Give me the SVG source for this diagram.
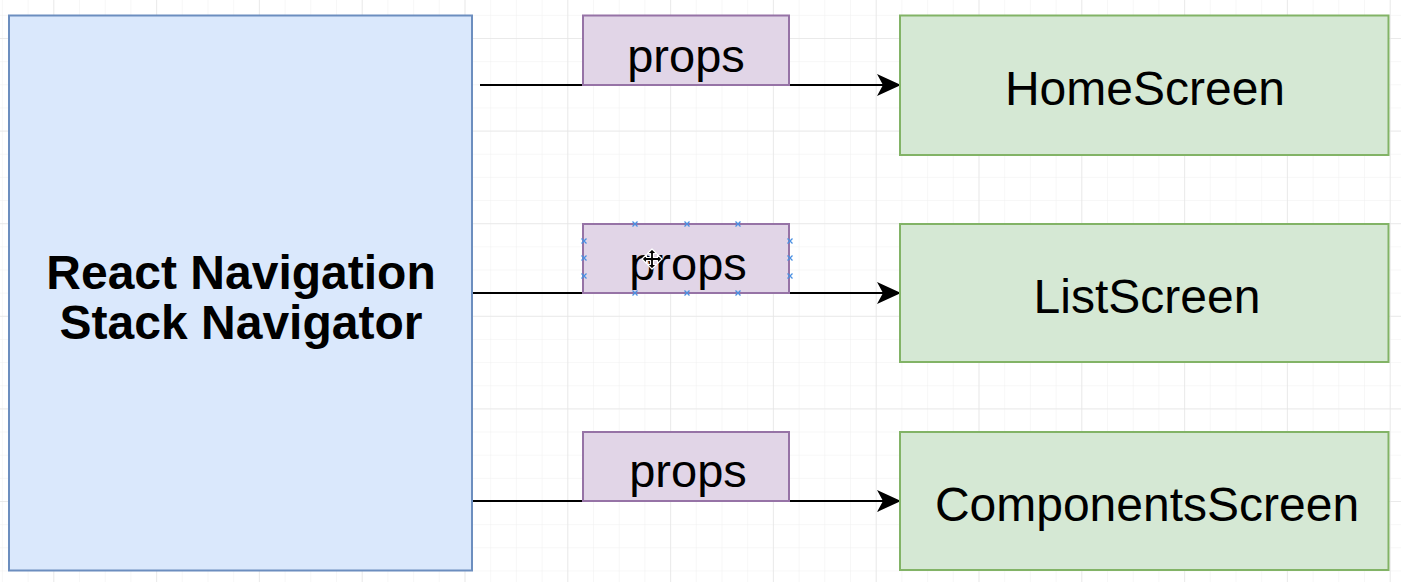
<svg xmlns="http://www.w3.org/2000/svg" width="1401" height="582" viewBox="0 0 1401 582">
<defs>
<pattern id="minor" x="1.9" y="14.85" width="25.7" height="23.15" patternUnits="userSpaceOnUse">
<path d="M0 0H25.7M0 0V23.15" fill="none" stroke="#efefef" stroke-width="1"/>
</pattern>
<pattern id="major" x="53.3" y="38" width="102.8" height="92.6" patternUnits="userSpaceOnUse">
<path d="M0 0H102.8M0 0V92.6" fill="none" stroke="#e6e6e6" stroke-width="1.5"/>
</pattern>
<marker id="arrow" viewBox="0 0 24 24" refX="23" refY="12" markerWidth="24" markerHeight="24" markerUnits="userSpaceOnUse" orient="auto">
<path d="M0 1 L24 12 L0 23 L6 12 Z" fill="#000"/>
</marker>
<g id="handle"><path d="M-2.5 -2.5L2.5 2.5M-2.5 2.5L2.5 -2.5" stroke="#4a90e2" stroke-width="1.3" fill="none"/></g>
</defs>
<style>
.nav{fill:#dae8fc;stroke:#6c8ebf;stroke-width:2}
.screen{fill:#d5e8d4;stroke:#82b366;stroke-width:2}
.props{fill:#e1d5e7;stroke:#9673a6;stroke-width:2}
.edge{fill:none;stroke:#000;stroke-width:2;marker-end:url(#arrow)}
text{font-family:"Liberation Sans",Arial,Helvetica,sans-serif;fill:#000;text-anchor:middle}
.big{font-size:48px}
.bold{font-size:48px;font-weight:bold}
.pl{font-size:47px}
</style>
<rect width="1401" height="582" fill="#ffffff"/>
<rect width="1401" height="582" fill="url(#minor)"/>
<rect width="1401" height="582" fill="url(#major)"/>

<g id="connectors">
<path class="edge" d="M480 85H900"/>
<path class="edge" d="M472 293H900"/>
<path class="edge" d="M472 501H900"/>
</g>

<g id="navigator">
<rect class="nav" x="9" y="15.5" width="463" height="555"/>
<text class="bold" x="241" y="289">React Navigation</text>
<text class="bold" x="241" y="339">Stack Navigator</text>
</g>

<g id="props1">
<rect class="props" x="583" y="15.5" width="206" height="69.5"/>
<text class="pl" x="686" y="72">props</text>
</g>
<g id="props2">
<rect class="props" x="583" y="224" width="206" height="69"/>
<text class="pl" x="688" y="280">props</text>
<use href="#handle" x="635" y="224"/>
<use href="#handle" x="687" y="224"/>
<use href="#handle" x="738" y="224"/>
<use href="#handle" x="635" y="293"/>
<use href="#handle" x="687" y="293"/>
<use href="#handle" x="738" y="293"/>
<use href="#handle" x="584" y="241"/>
<use href="#handle" x="584" y="258"/>
<use href="#handle" x="584" y="276"/>
<use href="#handle" x="790" y="241"/>
<use href="#handle" x="790" y="258"/>
<use href="#handle" x="790" y="276"/>
<path d="M652 249l-4.5 4.5h3v4h-4v-3l-4.5 4.5 4.5 4.5v-3h4v4h-3l4.5 4.5 4.5 -4.5h-3v-4h4v3l4.5 -4.5 -4.5 -4.5v3h-4v-4h3z" fill="#000" stroke="#fff" stroke-width="1.2" stroke-linejoin="round"/>
</g>
<g id="props3">
<rect class="props" x="583" y="432" width="206" height="69"/>
<text class="pl" x="688" y="487">props</text>
</g>

<g id="home">
<rect class="screen" x="900" y="15.5" width="488.5" height="139.5"/>
<text class="big" x="1145" y="105">HomeScreen</text>
</g>
<g id="list">
<rect class="screen" x="900" y="224" width="488.5" height="138"/>
<text class="big" x="1147" y="313">ListScreen</text>
</g>
<g id="components">
<rect class="screen" x="900" y="432" width="488.5" height="138"/>
<text class="big" x="1147" y="521">ComponentsScreen</text>
</g>
</svg>
